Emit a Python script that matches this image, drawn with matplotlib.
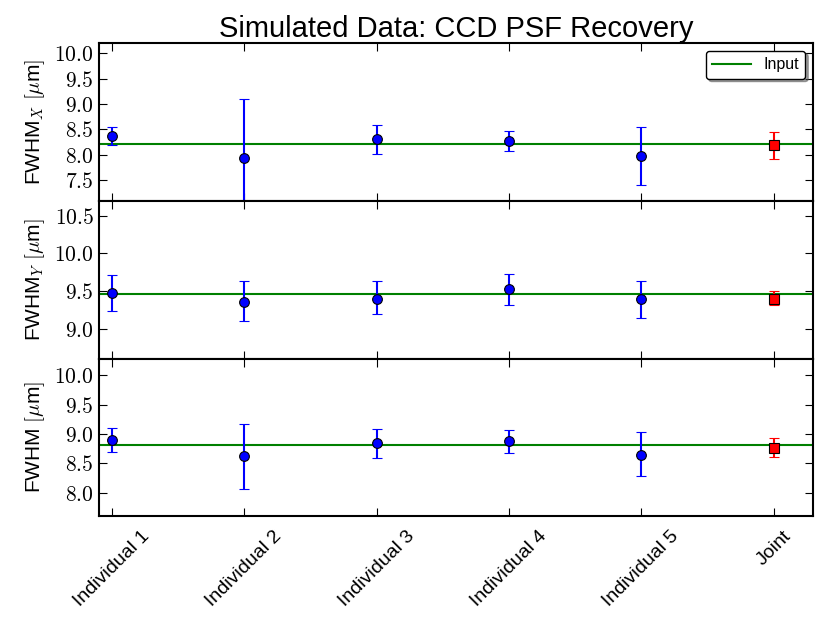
import numpy as np
import matplotlib
matplotlib.use("Agg")
import matplotlib.pyplot as plt
from matplotlib.ticker import FormatStrFormatter

plt.rcParams['font.family'] = ['Liberation Sans', 'DejaVu Sans']
plt.rcParams['mathtext.fontset'] = 'cm'

labels = ['Individual 1', 'Individual 2', 'Individual 3', 'Individual 4', 'Individual 5', 'Joint']

# FWHM_X
fx_val = [8.37, 7.93, 8.31, 8.27, 7.98, 8.19]
fx_hi = [8.54, 9.10, 8.59, 8.47, 8.55, 8.45]
fx_lo = [8.19, 6.76, 8.02, 8.08, 7.40, 7.92]
fx_input = 8.21

# FWHM_Y
fy_val = [9.48, 9.36, 9.40, 9.53, 9.39, 9.40]
fy_hi = [9.71, 9.63, 9.63, 9.73, 9.63, 9.50]
fy_lo = [9.23, 9.10, 9.19, 9.32, 9.14, 9.31]
fy_input = 9.46

# FWHM
f_val = [8.90, 8.62, 8.84, 8.88, 8.65, 8.77]
f_hi = [9.10, 9.17, 9.08, 9.07, 9.03, 8.93]
f_lo = [8.70, 8.07, 8.60, 8.67, 8.28, 8.61]
f_input = 8.82

panels = [
    (fx_val, fx_lo, fx_hi, fx_input, r'FWHM$_X$ $[\mu$m$]$', (7.09, 10.2), [7.5, 8.0, 8.5, 9.0, 9.5, 10.0]),
    (fy_val, fy_lo, fy_hi, fy_input, r'FWHM$_Y$ $[\mu$m$]$', (8.6, 10.7), [9.0, 9.5, 10.0, 10.5]),
    (f_val, f_lo, f_hi, f_input, r'FWHM $[\mu$m$]$', (7.6, 10.28), [8.0, 8.5, 9.0, 9.5, 10.0]),
]

fig, axes = plt.subplots(3, 1, sharex=True, figsize=(8.3, 6.23), dpi=100)
fig.subplots_adjust(left=0.119, right=0.98, top=0.931, bottom=0.171, hspace=0)

x = np.arange(len(labels))
for i, (ax, (val, lo, hi, inp, ylab, ylim, yt)) in enumerate(zip(axes, panels)):
    val = np.array(val)
    err = [val - np.array(lo), np.array(hi) - val]
    ax.axhline(inp, color=(0, 0.5, 0), lw=1.5, label='Input', zorder=1)
    ax.errorbar(x[:-1], val[:-1], yerr=[err[0][:-1], err[1][:-1]], fmt='o', color='b',
                mec='k', mew=0.8, ms=7, ecolor='b', elinewidth=1.5, capsize=3.5, capthick=1, zorder=3)
    ax.errorbar(x[-1:], val[-1:], yerr=[err[0][-1:], err[1][-1:]], fmt='s', color='r',
                mec='k', mew=0.8, ms=7, ecolor='r', elinewidth=1.5, capsize=3.5, capthick=1, zorder=3)
    ax.set_ylim(*ylim)
    ax.set_yticks(yt)
    ax.yaxis.set_major_formatter(FormatStrFormatter(r'$%.1f$'))
    ax.set_ylabel(ylab, fontsize=15)
    ax.tick_params(direction='in', top=True, right=True, length=6, labelsize=15.5)
    ax.yaxis.set_label_coords(-0.072, 0.5)
    for s in ax.spines.values():
        s.set_linewidth(1.5)
    if i == 0:
        ax.legend(loc='upper right', fontsize=11.5, shadow=True, fancybox=True,
                  framealpha=1, edgecolor='k', handlelength=2.4)

axes[0].set_title('Simulated Data: CCD PSF Recovery', fontsize=21, pad=3)
axes[-1].set_xlim(-0.1, 5.3)
axes[-1].set_xticks(x)
axes[-1].set_xticklabels(labels, rotation=45, ha='center', fontsize=14)
axes[-1].tick_params(axis='x', pad=8)

fig.savefig('out.png', dpi=100)
